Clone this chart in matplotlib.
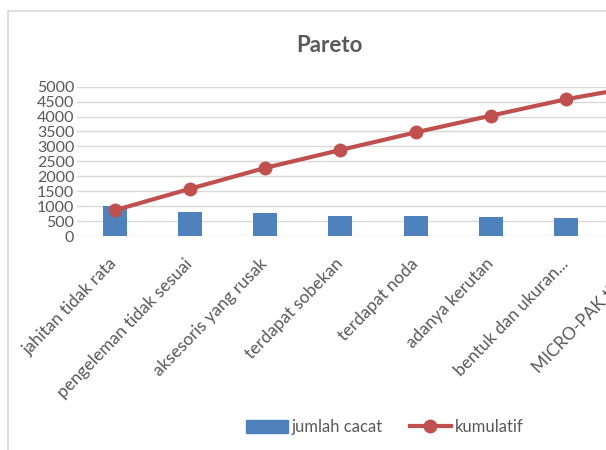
import matplotlib
matplotlib.use("Agg")
import matplotlib.pyplot as plt
from matplotlib.lines import Line2D

categories = ["jahitan tidak rata", "pengeleman tidak sesuai", "aksesoris yang rusak",
              "terdapat sobekan", "terdapat noda", "adanya kerutan",
              "bentuk dan ukuran...", "MICRO-PAK tidak..."]
jumlah_cacat = [1000, 790, 775, 660, 660, 640, 600, 450]
kumulatif = [860, 1580, 2280, 2880, 3470, 4030, 4580, 5030]
yticks = [0, 500, 1000, 1500, 2000, 2500, 3000, 3500, 4000, 4500, 5000]

FONT = ["Lato", "DejaVu Sans"]
plt.rcParams['font.family'] = FONT
TXT = "#595959"
BAR = "#4F81BD"
LINE = "#C0504D"
GRID = "#D9D9D9"

W, H = 606, 450
fig = plt.figure(figsize=(W / 100, H / 100), dpi=100)

# chart border (partially visible)
fig.add_artist(Line2D([8 / W, 8 / W], [0, 1 - 11 / H], color=GRID, lw=1.2, transform=fig.transFigure))
fig.add_artist(Line2D([8 / W, 1], [1 - 11 / H, 1 - 11 / H], color=GRID, lw=1.2, transform=fig.transFigure))

left = 77 / W
right = 679 / W
bottom = 1 - 236 / H
top = 1 - 86.7 / H
ax = fig.add_axes([left, bottom, right - left, top - bottom])

x = list(range(len(categories)))
ax.bar(x, jumlah_cacat, width=0.32, color=BAR, zorder=2, label="jumlah cacat")
ax.plot(x, kumulatif, color=LINE, lw=3, marker="o", markersize=9, zorder=3, label="kumulatif")

ax.set_xlim(-0.5, len(categories) - 0.5)
ax.set_ylim(0, 5000)
ax.set_yticks(yticks)
ax.set_yticklabels([str(v) for v in yticks], color=TXT, fontsize=11.5)
ax.yaxis.grid(True, color=GRID, lw=1)
ax.set_axisbelow(True)
for s in ax.spines.values():
    s.set_visible(False)
ax.tick_params(axis="both", length=0)
ax.tick_params(axis="y", pad=2)
ax.set_xticks(x)
ax.set_xticklabels(categories, rotation=46, ha="right", va="center", rotation_mode="anchor",
                   color=TXT, fontsize=12.5)
ax.tick_params(axis="x", pad=18)

fig.text(329 / W, 1 - 45 / H, "Pareto", ha="center", va="center", fontsize=16,
         fontweight="bold", color=TXT)

handles = [plt.Rectangle((0, 0), 1, 1, color=BAR),
           Line2D([0], [0], color=LINE, lw=3, marker="o", markersize=9)]
fig.legend(handles, ["jumlah cacat", "kumulatif"], loc="center", bbox_to_anchor=(385 / W, 1 - 427 / H),
           ncol=2, frameon=False, fontsize=12, labelcolor=TXT, handlelength=2.5,
           handletextpad=0.25, columnspacing=1.6, handleheight=0.8)

fig.savefig("out.png", dpi=100)
